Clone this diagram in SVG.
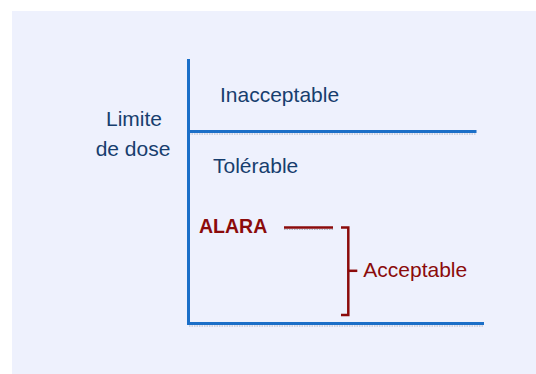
<svg xmlns="http://www.w3.org/2000/svg" width="536" height="374" viewBox="0 0 536 374">
<style>
.blue{stroke:#1b6fc8;stroke-width:3;fill:none}
.red{stroke:#8b0b0b;stroke-width:2.5;fill:none}
.shadow{stroke:#aeb3c2;stroke-width:1;stroke-dasharray:1.5 1;fill:none}
.t{font-family:"Liberation Sans",Arial,sans-serif;font-size:21px;fill:#173e6e}
.r{font-family:"Liberation Sans",Arial,sans-serif;font-size:21px;fill:#8b0b0b}
.rb{font-family:"Liberation Sans",Arial,sans-serif;font-size:19.5px;font-weight:bold;fill:#8b0b0b}
</style>
<rect x="0" y="0" width="536" height="374" fill="#ffffff"/>
<rect x="12" y="11" width="524" height="363" fill="#eef1fd"/>
<g id="connectors">
<line class="shadow" x1="189" y1="134" x2="476" y2="134"/>
<line class="shadow" x1="189" y1="326" x2="484" y2="326"/>
<line class="blue" x1="188.5" y1="59" x2="188.5" y2="323.5"/>
<line class="blue" x1="187" y1="131.5" x2="476.5" y2="131.5"/>
<line class="blue" x1="187" y1="323.5" x2="484" y2="323.5"/>
<line class="shadow" x1="284" y1="229.5" x2="333" y2="229.5"/>
<line class="red" x1="284" y1="227.5" x2="333" y2="227.5"/>
<path class="red" d="M341 227.5 H348.3 V315 H341"/>
<line class="red" x1="348.3" y1="270.8" x2="357.3" y2="270.8"/>
</g>
<g id="limite"><text class="t" x="134" y="125.5" text-anchor="middle">Limite</text><text class="t" x="133" y="155.5" text-anchor="middle">de dose</text></g>
<g id="inacceptable"><text class="t" x="220" y="101.5">Inacceptable</text></g>
<g id="tolerable"><text class="t" x="213" y="172.7">Tolérable</text></g>
<g id="alara"><text class="rb" x="199" y="233">ALARA</text></g>
<g id="acceptable"><text class="r" x="363.3" y="276.7">Acceptable</text></g>
</svg>
